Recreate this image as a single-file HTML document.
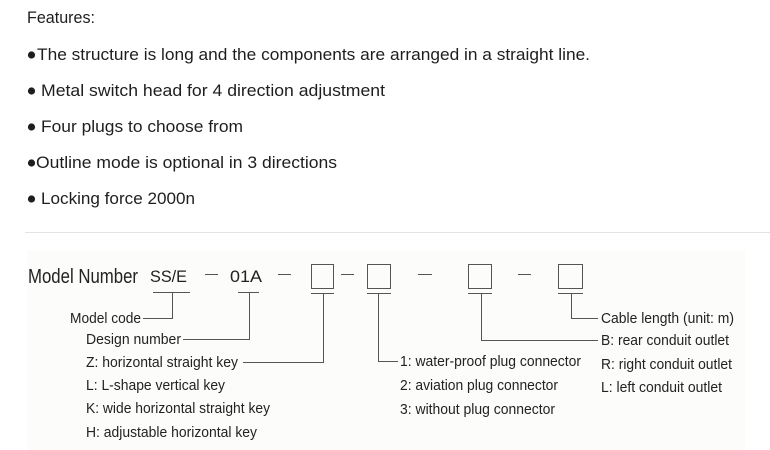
<!DOCTYPE html>
<html><head><meta charset="utf-8"><style>
html,body{margin:0;padding:0;background:#fff;width:770px;height:450px;overflow:hidden}
svg{display:block}
.f{font-family:"Liberation Sans",sans-serif;font-size:17px;fill:#1e1e1e}
.d{font-family:"Liberation Sans",sans-serif;font-size:15px;fill:#222}
</style></head><body>
<svg width="770" height="450" viewBox="0 0 770 450" xmlns="http://www.w3.org/2000/svg">
<text class="f" x="27" y="23" textLength="68" lengthAdjust="spacingAndGlyphs">Features:</text>
<g fill="#1e1e1e">
<circle cx="31.5" cy="55" r="3.6"/>
<circle cx="31.5" cy="91" r="3.6"/>
<circle cx="31.5" cy="127" r="3.6"/>
<circle cx="31.5" cy="163" r="3.6"/>
<circle cx="31.5" cy="199" r="3.6"/>
</g>
<text class="f" x="37" y="60" textLength="553" lengthAdjust="spacingAndGlyphs">The structure is long and the components are arranged in a straight line.</text>
<text class="f" x="41" y="96" textLength="344" lengthAdjust="spacingAndGlyphs">Metal switch head for 4 direction adjustment</text>
<text class="f" x="41" y="132" textLength="202" lengthAdjust="spacingAndGlyphs">Four plugs to choose from</text>
<text class="f" x="36" y="168" textLength="301" lengthAdjust="spacingAndGlyphs">Outline mode is optional in 3 directions</text>
<text class="f" x="41" y="204" textLength="154" lengthAdjust="spacingAndGlyphs">Locking force 2000n</text>
<line x1="25" y1="232.5" x2="770" y2="232.5" stroke="#e3e3e3" stroke-width="1"/>
<rect x="27" y="250" width="718" height="200" fill="#fcfcfa"/>
<g class="d">
<text x="28" y="283" style="font-size:20px" textLength="110" lengthAdjust="spacingAndGlyphs">Model Number</text>
<text x="150" y="282" style="font-size:17px" textLength="37" lengthAdjust="spacingAndGlyphs">SS/E</text>
<text x="230" y="282" style="font-size:17px" textLength="32" lengthAdjust="spacingAndGlyphs">01A</text>
<text x="70" y="323" textLength="71" lengthAdjust="spacingAndGlyphs">Model code</text>
<text x="86" y="344" textLength="95" lengthAdjust="spacingAndGlyphs">Design number</text>
<text x="86" y="367" textLength="152" lengthAdjust="spacingAndGlyphs">Z: horizontal straight key</text>
<text x="86" y="390" textLength="139" lengthAdjust="spacingAndGlyphs">L: L-shape vertical key</text>
<text x="86" y="413" textLength="184" lengthAdjust="spacingAndGlyphs">K: wide horizontal straight key</text>
<text x="86" y="437" textLength="171" lengthAdjust="spacingAndGlyphs">H: adjustable horizontal key</text>
<text x="400" y="366" textLength="181" lengthAdjust="spacingAndGlyphs">1: water-proof plug connector</text>
<text x="400" y="390" textLength="158" lengthAdjust="spacingAndGlyphs">2: aviation plug connector</text>
<text x="400" y="414" textLength="155" lengthAdjust="spacingAndGlyphs">3: without plug connector</text>
<text x="601" y="323" textLength="133" lengthAdjust="spacingAndGlyphs">Cable length (unit: m)</text>
<text x="601" y="345" textLength="128" lengthAdjust="spacingAndGlyphs">B: rear conduit outlet</text>
<text x="601" y="369" textLength="131" lengthAdjust="spacingAndGlyphs">R: right conduit outlet</text>
<text x="601" y="392" textLength="121" lengthAdjust="spacingAndGlyphs">L: left conduit outlet</text>
</g>
<g stroke="#555" stroke-width="1" fill="none">
<line x1="205" y1="274.5" x2="218" y2="274.5"/>
<line x1="278" y1="274.5" x2="291" y2="274.5"/>
<line x1="341" y1="274.5" x2="354" y2="274.5"/>
<line x1="418" y1="274.5" x2="432" y2="274.5"/>
<line x1="518" y1="274.5" x2="531" y2="274.5"/>
<rect x="311.5" y="264.5" width="22" height="24"/>
<rect x="367.5" y="264.5" width="23" height="24"/>
<rect x="468.5" y="264.5" width="23" height="24"/>
<rect x="558.5" y="264.5" width="24" height="24"/>
<line x1="153" y1="292.5" x2="190" y2="292.5"/>
<line x1="238" y1="292.5" x2="259" y2="292.5"/>
<line x1="311" y1="293.5" x2="334" y2="293.5"/>
<line x1="367" y1="293.5" x2="391" y2="293.5"/>
<line x1="468" y1="293.5" x2="492" y2="293.5"/>
<line x1="558" y1="293.5" x2="583" y2="293.5"/>
<polyline points="172.5,292 172.5,318.5 143,318.5"/>
<polyline points="249.5,292 249.5,339.5 183,339.5"/>
<polyline points="323.5,293 323.5,362.5 243,362.5"/>
<polyline points="378.5,293 378.5,361.5 398,361.5"/>
<polyline points="481.5,293 481.5,340.5 598,340.5"/>
<polyline points="571.5,293 571.5,318.5 598,318.5"/>
</g>
</svg>
</body></html>
